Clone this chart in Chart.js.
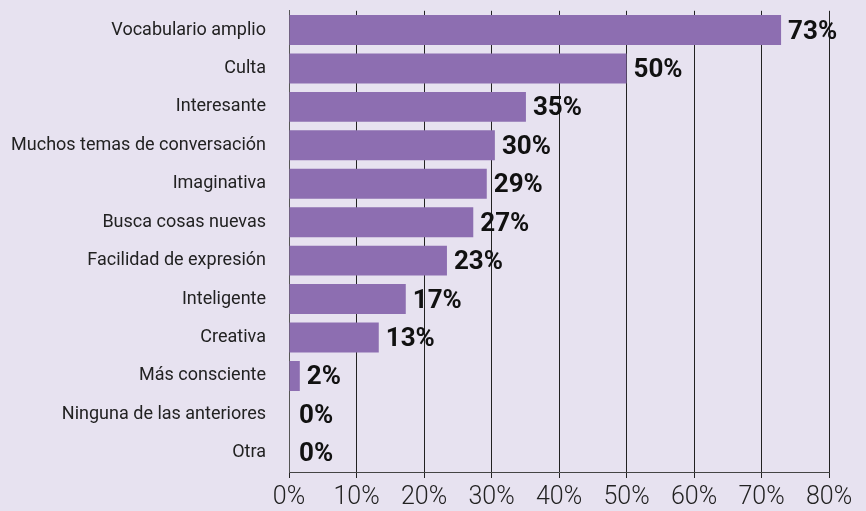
<!DOCTYPE html>
<html>
<head>
<meta charset="utf-8">
<script src="https://cdn.jsdelivr.net/npm/chart.js@4/dist/chart.umd.min.js"></script>
<style>
  html, body { margin: 0; padding: 0; background: #e7e2f0; }
  #wrap { width: 866px; height: 511px; }
</style>
</head>
<body>
<div id="wrap"><canvas id="myChart"></canvas></div>
<script>
// categories and values (percent)
var categorias = ['Vocabulario amplio', 'Culta', 'Interesante', 'Muchos temas de conversación',
  'Imaginativa', 'Busca cosas nuevas', 'Facilidad de expresión', 'Inteligente', 'Creativa',
  'Más consciente', 'Ninguna de las anteriores', 'Otra']
var porcentajes = [72.9, 50, 35.1, 30.5, 29.3, 27.3, 23.4, 17.3, 13.3, 1.6, 0, 0]
var etiquetas = ['73%', '50%', '35%', '30%', '29%', '27%', '23%', '17%', '13%', '2%', '0%', '0%']
var ticksX = [0, 10, 20, 30, 40, 50, 60, 70, 80]

// draws the bold % labels at the end of each bar
const valorLabels = {
  id: 'valorLabels',
  afterDatasetsDraw(chart) {
    const ctx = chart.ctx
    const meta = chart.getDatasetMeta(0)
    ctx.save()
    ctx.font = 'bold 26px Roboto'
    ctx.fillStyle = '#111'
    ctx.textBaseline = 'middle'
    ctx.textAlign = 'left'
    meta.data.forEach((bar, i) => {
      const off = porcentajes[i] === 0 ? 10 : 7
      ctx.fillText(etiquetas[i], bar.x + off, bar.y + 2)
    })
    ctx.restore()
  }
}

const ctx = document.getElementById('myChart').getContext('2d')
const myChart = new Chart(ctx, {
  type: 'bar',
  data: {
    labels: categorias,
    datasets: [{
      data: porcentajes,
      backgroundColor: '#8d6eb1',
      barPercentage: 0.78,
      categoryPercentage: 1
    }]
  },
  options: {
    indexAxis: 'y',
    responsive: true,
    maintainAspectRatio: false,
    animation: false,
    layout: { padding: { top: 7, right: 37, left: 0, bottom: 0 } },
    plugins: {
      legend: { display: false },
      tooltip: { enabled: false }
    },
    scales: {
      x: {
        min: 0,
        max: 80,
        afterBuildTicks: (scale) => { scale.ticks = ticksX.map(v => ({ value: v })) },
        afterFit: (scale) => { scale.height = 39 },
        grid: { color: '#222', lineWidth: 1, tickLength: 6, drawTicks: true, tickColor: '#222' },
        border: { display: true, color: '#444', width: 1 },
        ticks: {
          callback: (v) => v + '%',
          color: '#222',
          padding: 5,
          maxRotation: 0,
          font: { family: 'Roboto', size: 25, weight: 300 }
        }
      },
      y: {
        afterFit: (scale) => { scale.width = 289 },
        grid: { display: false, drawTicks: true, tickLength: 23 },
        border: { display: true, color: '#555', width: 1 },
        ticks: {
          color: '#222',
          padding: 0,
          font: { family: 'Roboto', size: 18 }
        }
      }
    }
  },
  plugins: [valorLabels]
})
</script>
</body>
</html>
